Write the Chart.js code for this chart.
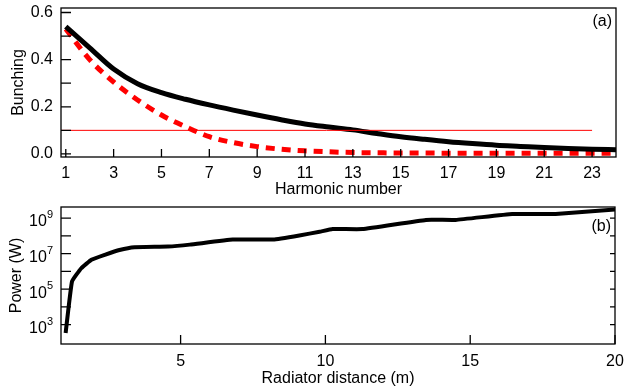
<!DOCTYPE html>
<html>
<head>
<meta charset="utf-8">
<script src="https://cdn.jsdelivr.net/npm/chart.js@4.4.0/dist/chart.umd.min.js"></script>
<style>
  html, body { margin: 0; padding: 0; background: #fff; }
  #wrap { position: relative; width: 624px; height: 390px; }
  canvas { position: absolute; left: 0; }
</style>
</head>
<body>
<div id="wrap">
  <canvas id="bunchingChart" width="624" height="200" style="top:0"></canvas>
  <canvas id="powerChart" width="624" height="190" style="top:200px"></canvas>
</div>
<script>
// panel (a): bunching factor per harmonic
const harmonics = [1, 2, 3, 4, 5, 6, 7, 8, 9, 10, 11, 12, 13, 14, 15, 16, 17, 18, 19, 20, 21, 22, 23, 24];
const bunchingSolid = [0.54, 0.45, 0.36, 0.298, 0.26, 0.232, 0.208, 0.186, 0.165, 0.145, 0.127, 0.114,
                       0.102, 0.087, 0.073, 0.062, 0.052, 0.044, 0.037, 0.032, 0.027, 0.023, 0.02, 0.018];
const bunchingDashed = [0.53, 0.40, 0.305, 0.229, 0.165, 0.116, 0.073, 0.048, 0.031, 0.02, 0.013, 0.009,
                        0.006, 0.005, 0.004, 0.004, 0.003, 0.003, 0.003, 0.003, 0.003, 0.003, 0.003, 0.003];
const thresholdX = [0.8, 23];
const thresholdY = [0.1, 0.1];
const harmonicTicks = [1, 3, 5, 7, 9, 11, 13, 15, 17, 19, 21, 23];
const bunchingTicks = [0, 0.1, 0.2, 0.3, 0.4, 0.5, 0.6];
const bunchingLabels = ["0.0", "", "0.2", "", "0.4", "", "0.6"];

// panel (b): power along the radiator
const distance = [1.03, 1.25, 1.57, 1.92, 2.38, 2.89, 3.41, 4.56, 5.32, 6.8, 8.2, 9.1, 9.8, 10.25, 11.28,
                  13.47, 14.5, 16.45, 17.95, 20];
const power = [340, 2.7e5, 1.5e6, 4.5e6, 8.5e6, 1.6e7, 2.3e7, 2.5e7, 3.2e7, 6.2e7, 6.2e7, 1.05e8, 1.7e8,
               2.4e8, 2.4e8, 7.9e8, 7.9e8, 1.7e9, 1.7e9, 3.0e9];
const distanceTicks = [5, 10, 15, 20];
const powerTicks = [1e3, 1e4, 1e5, 1e6, 1e7, 1e8, 1e9];
const powerExponents = [3, 5, 7, 9]; // labelled decades

const FONT = "'Liberation Sans', Arial, Helvetica, sans-serif";
Chart.defaults.font.family = FONT;
Chart.defaults.color = "#000";

const zip = (xs, ys) => xs.map((x, i) => ({ x: x, y: ys[i] }));

// keep chart area exactly where we put it
const noPad = (s) => { s.paddingTop = 0; s.paddingBottom = 0; s.paddingLeft = 0; s.paddingRight = 0; };

// frame around the plot, inward tick marks, panel letter, 10^n labels
const framePlugin = {
    id: "frame",
    afterDraw(chart, args, opts) {
        const { ctx, chartArea: a } = chart;
        ctx.save();
        ctx.strokeStyle = "#000";
        ctx.lineWidth = 1.3;
        ctx.strokeRect(a.left, a.top, a.right - a.left, a.bottom - a.top);

        ctx.beginPath();
        chart.scales.x.ticks.forEach((t) => {
            const px = chart.scales.x.getPixelForValue(t.value);
            ctx.moveTo(px, a.bottom);
            ctx.lineTo(px, a.bottom - opts.xTick);
        });
        chart.scales.y.ticks.forEach((t) => {
            const py = chart.scales.y.getPixelForValue(t.value);
            ctx.moveTo(a.left, py);
            ctx.lineTo(a.left + opts.yTick, py);
            if (opts.mirror) {
                ctx.moveTo(a.right, py);
                ctx.lineTo(a.right - opts.mirror, py);
            }
        });
        ctx.stroke();

        ctx.fillStyle = "#000";
        ctx.font = "16px " + FONT;
        ctx.textAlign = "right";
        ctx.textBaseline = "middle";
        ctx.fillText(opts.letter, a.right - 4, a.top + opts.letterDy);

        if (opts.powers) {
            const y = chart.scales.y;
            opts.powers.forEach((e) => {
                const py = y.getPixelForValue(Math.pow(10, e));
                const xr = a.left - 8;
                ctx.font = "11px " + FONT;
                const ew = ctx.measureText(String(e)).width;
                ctx.fillText(String(e), xr, py - 3);
                ctx.font = "16px " + FONT;
                ctx.fillText("10", xr - ew, py + 4);
            });
        }
        ctx.restore();
    },
};

const tickFont = { size: 16 };
const titleFont = { size: 16 };

new Chart(document.getElementById("bunchingChart"), {
    type: "line",
    data: {
        datasets: [
            {
                data: zip(thresholdX, thresholdY),
                borderColor: "#ff0000",
                borderWidth: 1,
                pointRadius: 0,
            },
            {
                data: zip(harmonics, bunchingSolid),
                borderColor: "#000",
                borderWidth: 5,
                pointRadius: 0,
                cubicInterpolationMode: "monotone",
            },
            {
                data: zip(harmonics, bunchingDashed),
                borderColor: "#ff0000",
                borderWidth: 5,
                borderDash: [9, 7],
                pointRadius: 0,
                cubicInterpolationMode: "monotone",
            },
        ],
    },
    options: {
        responsive: false,
        animation: false,
        layout: { padding: { top: 8, right: 8, left: 0, bottom: 0 } },
        plugins: {
            legend: { display: false },
            tooltip: { enabled: false },
            frame: { xTick: 8, yTick: 10, mirror: 0, letter: "(a)", letterDy: 14 },
        },
        scales: {
            x: {
                type: "linear",
                min: 0.8,
                max: 24,
                afterBuildTicks: (s) => { s.ticks = harmonicTicks.map((v) => ({ value: v })); },
                afterFit: (s) => { s.height = 43; noPad(s); },
                grid: { display: false, drawTicks: false },
                border: { display: false },
                ticks: { font: tickFont, padding: 7, maxRotation: 0, autoSkip: false },
                title: { display: true, text: "Harmonic number", font: titleFont, padding: { top: 0, bottom: 1 } },
            },
            y: {
                min: -0.013,
                max: 0.619,
                afterBuildTicks: (s) => { s.ticks = bunchingTicks.map((v) => ({ value: v })); },
                afterFit: (s) => { s.width = 61; noPad(s); },
                grid: { display: false, drawTicks: false },
                border: { display: false },
                ticks: { font: tickFont, padding: 8, autoSkip: false, callback: (v, i) => bunchingLabels[i] },
                title: { display: true, text: "Bunching", font: titleFont, padding: { top: 9, bottom: 0 } },
            },
        },
    },
    plugins: [framePlugin],
});

new Chart(document.getElementById("powerChart"), {
    type: "line",
    data: {
        datasets: [
            {
                data: zip(distance, power),
                borderColor: "#000",
                borderWidth: 4,
                pointRadius: 0,
                tension: 0.1,
            },
        ],
    },
    options: {
        responsive: false,
        animation: false,
        layout: { padding: { top: 7, right: 9, left: 0, bottom: 0 } },
        plugins: {
            legend: { display: false },
            tooltip: { enabled: false },
            frame: { xTick: 9, yTick: 10, mirror: 5, letter: "(b)", letterDy: 20, powers: powerExponents },
        },
        scales: {
            x: {
                type: "linear",
                min: 0.87,
                max: 20,
                afterBuildTicks: (s) => { s.ticks = distanceTicks.map((v) => ({ value: v })); },
                afterFit: (s) => { s.height = 46; noPad(s); },
                grid: { display: false, drawTicks: false },
                border: { display: false },
                ticks: { font: tickFont, padding: 8, maxRotation: 0, autoSkip: false },
                title: { display: true, text: "Radiator distance (m)", font: titleFont, padding: { top: 0, bottom: 2 } },
            },
            y: {
                type: "logarithmic",
                min: 81,
                max: 4.2e9,
                afterBuildTicks: (s) => { s.ticks = powerTicks.map((v) => ({ value: v })); },
                afterFit: (s) => { s.width = 61; noPad(s); },
                grid: { display: false, drawTicks: false },
                border: { display: false },
                ticks: { display: false },
                title: { display: true, text: "Power (W)", font: titleFont, padding: { top: 7, bottom: 0 } },
            },
        },
    },
    plugins: [framePlugin],
});
</script>
</body>
</html>
